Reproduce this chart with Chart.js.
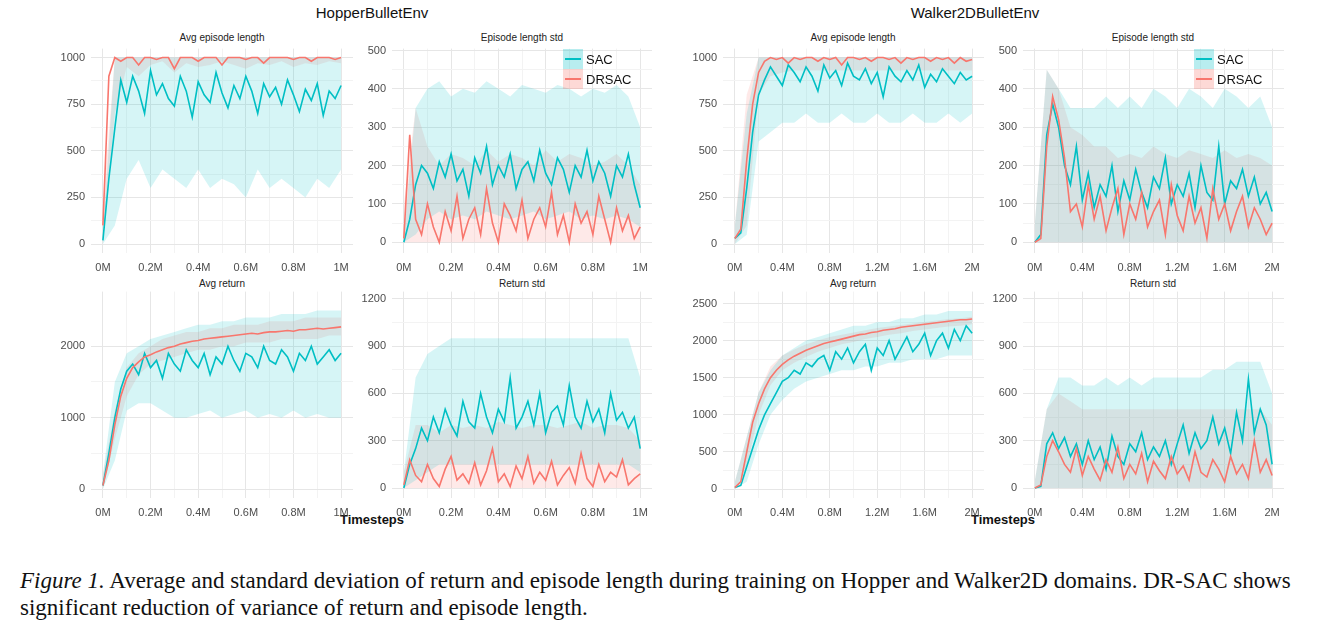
<!DOCTYPE html>
<html>
<head>
<meta charset="utf-8">
<script src="https://cdn.jsdelivr.net/npm/chart.js@4/dist/chart.umd.min.js"></script>
<style>
  body { margin: 0; background: #fff; width: 1326px; height: 632px; position: relative; overflow: hidden; font-family: "Liberation Sans", Arial, sans-serif; }
  canvas, .lbl { position: absolute; }
  .env { font-size: 15px; color: #111; transform: translateX(-50%); }
  .sub { font-size: 10px; color: #222; transform: translateX(-50%); }
  .ts { font-size: 13px; font-weight: bold; color: #111; transform: translateX(-50%); }
  .leg { position: absolute; font-size: 13px; color: #111; }
  .leg div { height: 20px; display: flex; align-items: center; }
  .leg span.k { width: 20px; height: 20px; margin-right: 3px; position: relative; }
  .leg span.k i { position: absolute; left: 2px; right: 2px; top: 9px; height: 2px; }
  .cap { position: absolute; left: 20px; font-family: "Liberation Serif", serif; font-size: 23px; color: #111; white-space: nowrap; }
</style>
</head>
<body>
<div class="lbl env" style="left:372px;top:4px">HopperBulletEnv</div>
<div class="lbl env" style="left:975px;top:4px">Walker2DBulletEnv</div>
<div class="lbl sub" style="left:222px;top:32px">Avg episode length</div>
<div class="lbl sub" style="left:522px;top:32px">Episode length std</div>
<div class="lbl sub" style="left:853px;top:32px">Avg episode length</div>
<div class="lbl sub" style="left:1153px;top:32px">Episode length std</div>
<div class="lbl sub" style="left:222px;top:278px">Avg return</div>
<div class="lbl sub" style="left:522px;top:278px">Return std</div>
<div class="lbl sub" style="left:853px;top:278px">Avg return</div>
<div class="lbl sub" style="left:1153px;top:278px">Return std</div>
<div class="lbl ts" style="left:372px;top:512px">Timesteps</div>
<div class="lbl ts" style="left:1003px;top:512px">Timesteps</div>
<div class="cap" style="top:568px"><i>Figure 1.</i> Average and standard deviation of return and episode length during training on Hopper and Walker2D domains. DR-SAC shows</div>
<div class="cap" style="top:595px">significant reduction of variance of return and episode length.</div>

<script>
// ---- data (means at 41 points, bands at 21 points) ----
const H_len_sac = [20,350,620,880,760,900,820,700,930,800,860,780,740,900,820,680,870,800,760,920,810,730,850,780,900,820,700,860,790,840,750,880,800,710,830,770,860,690,820,780,850];
const H_len_dr = [100,900,1000,980,1000,1000,960,1000,1000,990,1000,1000,940,1000,1000,1000,980,1000,1000,1000,960,1000,1000,1000,990,1000,1000,970,1000,1000,1000,1000,990,1000,1000,980,1000,1000,1000,990,1000];
const H_len_sac_lo = [0,100,350,450,300,400,350,300,400,300,350,320,250,400,300,350,300,250,350,300,400];
const H_len_sac_hi = [60,1000,1000,1000,1000,1000,1000,1000,1000,1000,1000,1000,1000,1000,1000,1000,1000,1000,1000,1000,1000];
const H_len_dr_lo = [0,700,950,900,960,980,920,970,950,960,980,960,940,970,960,980,950,970,960,980,970];
const H_len_dr_hi = [200,1000,1000,1000,1000,1000,1000,1000,1000,1000,1000,1000,1000,1000,1000,1000,1000,1000,1000,1000,1000];

const H_lstd_sac = [0,60,150,200,180,140,210,170,230,160,190,120,220,180,250,150,200,170,230,140,190,210,160,240,180,150,220,190,130,200,170,240,160,210,180,120,200,170,230,150,90];
const H_lstd_dr = [10,280,60,20,100,40,0,80,30,120,10,60,90,20,140,50,0,100,70,30,110,10,60,90,40,130,20,70,0,100,50,80,20,120,60,0,90,30,70,10,40];
const H_lstd_sac_lo = [0,20,60,80,60,70,60,80,70,60,70,80,60,70,80,60,70,60,70,60,40];
const H_lstd_sac_hi = [20,350,400,420,380,400,390,420,400,380,410,400,390,410,400,380,400,390,410,380,300];
const H_lstd_dr_lo = [0,0,0,0,0,0,0,0,0,0,0,0,0,0,0,0,0,0,0,0,0];
const H_lstd_dr_hi = [100,350,250,200,230,220,200,240,210,230,220,200,240,210,230,220,200,210,230,200,150];

const H_ret_sac = [50,500,1000,1400,1650,1750,1600,1900,1700,1800,1550,1900,1750,1650,1950,1800,1700,1900,1600,1850,1750,2000,1800,1650,1900,1850,1700,2000,1800,1750,1950,1850,1650,1900,1800,2000,1750,1850,1950,1800,1900];
const H_ret_dr = [50,400,900,1300,1550,1700,1780,1850,1880,1920,1950,1980,2000,2030,2050,2070,2080,2100,2110,2120,2130,2140,2150,2160,2170,2180,2170,2190,2200,2200,2210,2220,2210,2230,2230,2240,2250,2240,2250,2260,2270];
const H_ret_sac_lo = [0,400,1100,1200,1200,1100,1000,1000,1050,1100,1000,1050,1100,1000,1050,1000,1100,1000,1050,1000,1000];
const H_ret_sac_hi = [200,1500,1900,2000,2100,2150,2200,2250,2300,2300,2350,2350,2400,2400,2400,2450,2450,2450,2500,2500,2500];
const H_ret_dr_lo = [0,700,1300,1600,1750,1800,1850,1900,1950,1950,2000,2000,2050,2050,2050,2100,2100,2100,2100,2150,2150];
const H_ret_dr_hi = [200,1100,1700,1900,2000,2100,2150,2200,2200,2250,2250,2300,2300,2300,2350,2350,2350,2400,2400,2400,2400];

const H_rstd_sac = [0,150,250,380,300,450,350,500,400,330,550,420,380,600,450,350,500,420,700,380,450,550,400,600,350,480,520,400,650,450,380,550,420,500,350,600,430,480,380,450,250];
const H_rstd_dr = [20,180,80,40,150,60,10,120,200,50,90,30,160,20,110,250,40,90,10,140,60,200,30,100,50,170,20,80,130,30,220,60,10,150,40,100,70,180,20,60,90];
const H_rstd_sac_lo = [0,50,100,150,150,150,150,150,150,150,150,150,150,150,150,150,150,150,150,150,100];
const H_rstd_sac_hi = [100,700,850,900,950,950,950,950,950,950,950,950,950,950,950,950,950,950,950,950,700];
const H_rstd_dr_lo = [0,0,0,0,0,0,0,0,0,0,0,0,0,0,0,0,0,0,0,0,0];
const H_rstd_dr_hi = [100,400,400,350,400,380,400,380,420,400,380,400,400,380,400,420,380,400,400,380,300];

const W_len_sac = [30,60,300,600,800,880,950,900,850,960,920,870,950,900,820,960,890,930,850,970,900,880,940,860,920,790,950,900,870,930,880,960,840,910,870,940,900,860,920,880,900];
const W_len_dr = [30,80,450,750,920,980,1000,990,1000,970,1000,990,1000,1000,980,1000,990,1000,960,1000,1000,990,1000,980,1000,1000,990,1000,970,1000,990,1000,1000,980,1000,990,1000,970,1000,980,990];
const W_len_sac_lo = [0,50,550,600,650,650,700,650,650,700,650,650,700,650,650,700,650,650,700,650,700];
const W_len_sac_hi = [100,700,1000,1000,1000,1000,1000,1000,1000,1000,1000,1000,1000,1000,1000,1000,1000,1000,1000,1000,1000];
const W_len_dr_lo = [0,100,800,900,920,930,930,930,930,930,930,930,930,930,930,930,930,930,930,930,930];
const W_len_dr_hi = [100,800,1000,1000,1000,1000,1000,1000,1000,1000,1000,1000,1000,1000,1000,1000,1000,1000,1000,1000,1000];

const W_lstd_sac = [0,20,280,360,300,200,150,250,110,180,90,150,120,200,80,160,110,190,130,90,170,140,220,100,150,120,180,90,200,130,110,250,100,160,140,190,120,170,100,130,80];
const W_lstd_dr = [0,10,250,380,320,220,80,100,40,150,60,120,30,90,140,20,100,60,130,40,80,110,20,150,70,30,120,50,90,10,140,60,100,30,80,120,40,90,60,20,50];
const W_lstd_sac_lo = [0,0,0,0,0,0,0,0,0,0,0,0,0,0,0,0,0,0,0,0,0];
const W_lstd_sac_hi = [50,450,400,350,350,350,380,350,380,350,400,380,350,400,380,350,400,380,350,380,300];
const W_lstd_dr_lo = [0,0,0,0,0,0,0,0,0,0,0,0,0,0,0,0,0,0,0,0,0];
const W_lstd_dr_hi = [50,450,400,300,280,250,250,220,230,220,250,230,220,240,230,220,240,220,230,220,200];

const W_ret_sac = [20,50,300,550,800,1000,1150,1300,1450,1500,1600,1550,1700,1650,1750,1800,1600,1850,1750,1900,1700,1850,1950,1600,1900,1800,2000,1750,1900,2050,1850,1950,2100,1800,2000,2100,1900,2150,2000,2200,2100];
const W_ret_dr = [20,100,500,900,1150,1350,1500,1600,1680,1740,1790,1830,1870,1900,1930,1960,1980,2000,2020,2040,2060,2080,2090,2110,2120,2140,2150,2160,2180,2190,2200,2210,2220,2230,2240,2250,2260,2270,2280,2280,2290];
const W_ret_sac_lo = [0,100,600,1000,1200,1350,1450,1500,1550,1600,1600,1650,1650,1700,1700,1750,1750,1750,1800,1800,1800];
const W_ret_sac_hi = [100,700,1300,1600,1800,1900,2000,2050,2100,2150,2200,2200,2250,2250,2300,2300,2350,2350,2400,2400,2400];
const W_ret_dr_lo = [0,300,1000,1400,1600,1700,1780,1850,1900,1950,1980,2020,2050,2080,2100,2130,2150,2170,2190,2200,2220];
const W_ret_dr_hi = [100,700,1300,1650,1800,1880,1950,2000,2050,2080,2110,2140,2170,2190,2210,2230,2250,2270,2290,2300,2320];

const W_rstd_sac = [0,10,280,350,250,320,200,280,150,300,180,260,120,330,200,150,280,230,350,180,260,200,300,150,280,400,220,350,250,300,450,280,380,220,480,300,690,350,500,400,150];
const W_rstd_dr = [0,20,200,300,230,150,100,250,80,200,120,50,180,100,260,60,150,90,220,40,170,110,60,200,90,140,50,230,100,70,180,120,40,200,90,150,60,300,100,180,80];
const W_rstd_sac_lo = [0,0,0,0,0,0,0,0,0,0,0,0,0,0,0,0,0,0,0,0,0];
const W_rstd_sac_hi = [50,500,700,700,650,650,700,650,700,650,700,700,700,700,700,750,750,800,800,800,600];
const W_rstd_dr_lo = [0,0,0,0,0,0,0,0,0,0,0,0,0,0,0,0,0,0,0,0,0];
const W_rstd_dr_hi = [50,500,600,550,500,500,500,500,500,500,500,500,500,500,500,500,500,500,500,500,400];

const SAC_COLOR = '#00BFC4';
const DR_COLOR = '#F8766D';
const TOP_SHIFT = 11; // chart.js keeps some room above the plot area

function toXY(arr, xmax) {
    const step = xmax / (arr.length - 1);
    return arr.map((v, i) => ({ x: i * step, y: v }));
}

function makeTicks(min, max, step) {
    const t = [];
    for (let v = min; v <= max + 1e-9; v += step) t.push({ value: Math.round(v * 1000) / 1000 });
    return t;
}

function addPanel(cfg) {
    const plotW = cfg.R - cfg.L, plotH = cfg.B - cfg.T;
    const canvas = document.createElement('canvas');
    canvas.style.left = (cfg.L - 40) + 'px';
    canvas.style.top = (cfg.T - TOP_SHIFT) + 'px';
    canvas.width = plotW + 54;
    canvas.height = plotH + 22 + TOP_SHIFT;
    canvas.style.width = canvas.width + 'px';
    canvas.style.height = canvas.height + 'px';
    document.body.appendChild(canvas);

    const xm = cfg.xmax;
    const band = (lo, hi, color) => [
        { data: toXY(hi, xm), borderWidth: 0, pointRadius: 0, backgroundColor: color, fill: '+1', order: 5 },
        { data: toXY(lo, xm), borderWidth: 0, pointRadius: 0, backgroundColor: color, fill: false, order: 5 }
    ];
    const datasets = [
        ...band(cfg.sacLo, cfg.sacHi, 'rgba(0,191,196,0.16)'),
        ...band(cfg.drLo, cfg.drHi, 'rgba(248,118,109,0.16)'),
        { data: toXY(cfg.sac, xm), borderColor: SAC_COLOR, borderWidth: 1.6, pointRadius: 0, fill: false, order: 1 },
        { data: toXY(cfg.dr, xm), borderColor: DR_COLOR, borderWidth: 1.6, pointRadius: 0, fill: false, order: 0 }
    ];
    const xMajor = xm === 1 ? 0.2 : 0.4;
    const tickFont = { family: 'Liberation Sans', size: 11 };
    new Chart(canvas, {
        type: 'line',
        data: { datasets },
        options: {
            responsive: false, animation: false,
            layout: { padding: { right: 14 } },
            plugins: { legend: { display: false }, tooltip: { enabled: false } },
            scales: {
                x: {
                    type: 'linear', min: -xm * 0.05, max: xm * 1.05,
                    afterBuildTicks: s => { s.ticks = makeTicks(0, xm, xMajor / 2); },
                    afterFit: s => { s.height = 22; },
                    border: { display: false },
                    grid: { color: c => (Math.abs(c.tick.value / xMajor - Math.round(c.tick.value / xMajor)) < 1e-6 ? '#e6e6e6' : '#f3f3f3'), drawTicks: false },
                    ticks: {
                        color: '#4d4d4d', font: tickFont, padding: 8, maxRotation: 0, autoSkip: false,
                        callback: v => (Math.abs(v / xMajor - Math.round(v / xMajor)) < 1e-6 ? (Math.round(v * 10) / 10) + 'M' : '')
                    }
                },
                y: {
                    min: cfg.ymin, max: cfg.ymax,
                    afterBuildTicks: s => { s.ticks = makeTicks(0, cfg.ytop, cfg.ystep / 2); },
                    afterFit: s => { s.width = 40; },
                    border: { display: false },
                    grid: { color: c => (Math.round(c.tick.value / cfg.ystep * 2) % 2 === 0 ? '#e6e6e6' : '#f3f3f3'), drawTicks: false },
                    ticks: {
                        color: '#4d4d4d', font: tickFont, padding: 6, autoSkip: false,
                        callback: v => (Math.round(v / cfg.ystep * 2) % 2 === 0 ? v : '')
                    }
                }
            }
        }
    });
}

const TOP = { T: 47, B: 253 }, BOT = { T: 290, B: 498 };
const H1 = { L: 91, R: 353 }, H2 = { L: 392, R: 652 }, W1 = { L: 723, R: 984 }, W2 = { L: 1023, R: 1284 };

addPanel({ ...H1, ...TOP, xmax: 1, ymin: -48, ymax: 1048, ytop: 1000, ystep: 250,
    sac: H_len_sac, dr: H_len_dr, sacLo: H_len_sac_lo, sacHi: H_len_sac_hi, drLo: H_len_dr_lo, drHi: H_len_dr_hi });
addPanel({ ...H2, ...TOP, xmax: 1, ymin: -28, ymax: 505, ytop: 500, ystep: 100,
    sac: H_lstd_sac, dr: H_lstd_dr, sacLo: H_lstd_sac_lo, sacHi: H_lstd_sac_hi, drLo: H_lstd_dr_lo, drHi: H_lstd_dr_hi });
addPanel({ ...W1, ...TOP, xmax: 2, ymin: -48, ymax: 1048, ytop: 1000, ystep: 250,
    sac: W_len_sac, dr: W_len_dr, sacLo: W_len_sac_lo, sacHi: W_len_sac_hi, drLo: W_len_dr_lo, drHi: W_len_dr_hi });
addPanel({ ...W2, ...TOP, xmax: 2, ymin: -28, ymax: 505, ytop: 500, ystep: 100,
    sac: W_lstd_sac, dr: W_lstd_dr, sacLo: W_lstd_sac_lo, sacHi: W_lstd_sac_hi, drLo: W_lstd_dr_lo, drHi: W_lstd_dr_hi });
addPanel({ ...H1, ...BOT, xmax: 1, ymin: -125, ymax: 2764, ytop: 2000, ystep: 1000,
    sac: H_ret_sac, dr: H_ret_dr, sacLo: H_ret_sac_lo, sacHi: H_ret_sac_hi, drLo: H_ret_dr_lo, drHi: H_ret_dr_hi });
addPanel({ ...H2, ...BOT, xmax: 1, ymin: -63, ymax: 1245, ytop: 1200, ystep: 300,
    sac: H_rstd_sac, dr: H_rstd_dr, sacLo: H_rstd_sac_lo, sacHi: H_rstd_sac_hi, drLo: H_rstd_dr_lo, drHi: H_rstd_dr_hi });
addPanel({ ...W1, ...BOT, xmax: 2, ymin: -120, ymax: 2660, ytop: 2500, ystep: 500,
    sac: W_ret_sac, dr: W_ret_dr, sacLo: W_ret_sac_lo, sacHi: W_ret_sac_hi, drLo: W_ret_dr_lo, drHi: W_ret_dr_hi });
addPanel({ ...W2, ...BOT, xmax: 2, ymin: -63, ymax: 1245, ytop: 1200, ystep: 300,
    sac: W_rstd_sac, dr: W_rstd_dr, sacLo: W_rstd_sac_lo, sacHi: W_rstd_sac_hi, drLo: W_rstd_dr_lo, drHi: W_rstd_dr_hi });

// legends inside the episode length std panels
function addLegend(left, top) {
    const d = document.createElement('div');
    d.className = 'leg';
    d.style.left = left + 'px';
    d.style.top = top + 'px';
    d.innerHTML =
        '<div><span class="k" style="background:rgba(0,191,196,0.28)"><i style="background:' + SAC_COLOR + '"></i></span>SAC</div>' +
        '<div><span class="k" style="background:rgba(248,118,109,0.28)"><i style="background:' + DR_COLOR + '"></i></span>DRSAC</div>';
    document.body.appendChild(d);
}
addLegend(563, 49);
addLegend(1194, 49);
</script>
</body>
</html>
